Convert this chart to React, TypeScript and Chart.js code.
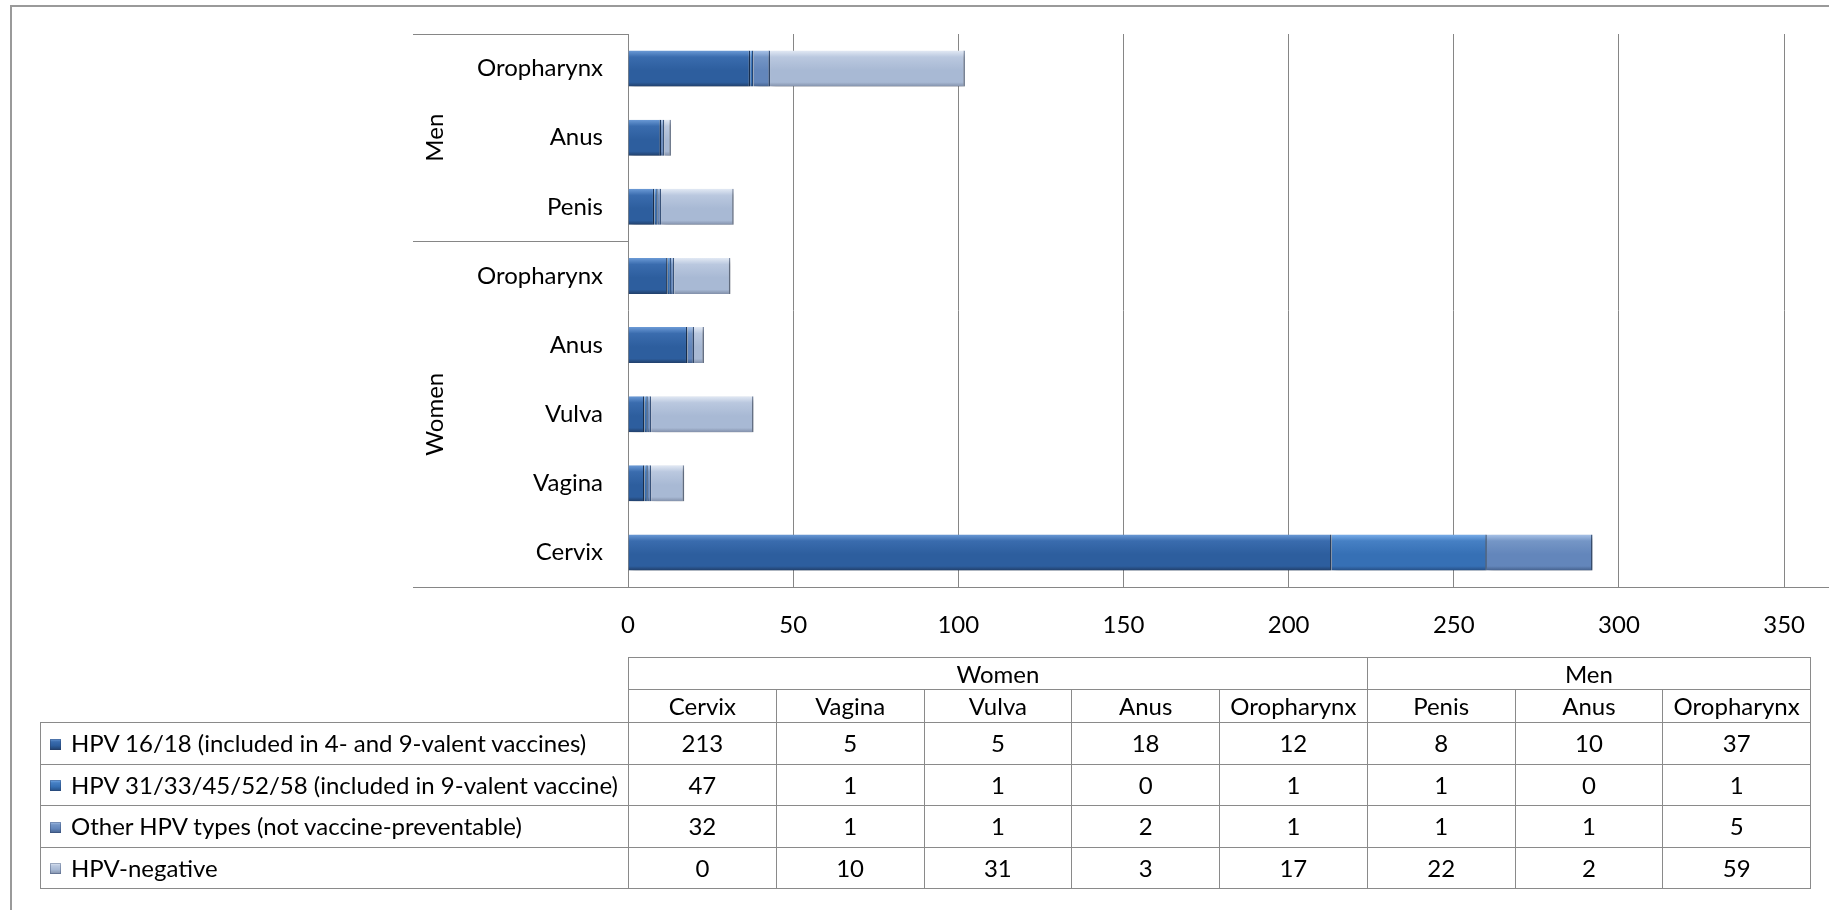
import React, { useEffect, useRef } from 'react';
import { Chart, registerables } from 'chart.js';

Chart.register(...registerables);

// ---------- DATA ----------
const categories = ['Cervix', 'Vagina', 'Vulva', 'Anus', 'Oropharynx', 'Penis', 'Anus', 'Oropharynx'];
const groupNames = ['Women', 'Men'];
const groupSizes = [5, 3];
const seriesNames = [
  'HPV 16/18 (included in 4- and 9-valent vaccines)',
  'HPV 31/33/45/52/58 (included in 9-valent vaccine)',
  'Other HPV types (not vaccine-preventable)',
  'HPV-negative',
];
const hpv1618 = [213, 5, 5, 18, 12, 8, 10, 37];
const hpv9valent = [47, 1, 1, 0, 1, 1, 0, 1];
const hpvOther = [32, 1, 1, 2, 1, 1, 1, 5];
const hpvNegative = [0, 10, 31, 3, 17, 22, 2, 59];
const xMin = 0;
const xMax = 350;
const xStep = 50;

const seriesValues = [hpv1618, hpv9valent, hpvOther, hpvNegative];

// ---------- STYLE ----------
const FONT = 'Lato, "Open Sans", sans-serif';
const FONT_SIZE = 24;
const GRID = '#868686';
const BAR_PCT = 0.52;
// [top highlight, upper, middle, bottom]
const palettes = [
  ['#6b9ad6', '#3a6cae', '#2d5e9e', '#213f6a'],
  ['#7aaeea', '#4680c4', '#3670b5', '#264f85'],
  ['#a9c3e8', '#7596c6', '#6386bb', '#45618d'],
  ['#e2e9f4', '#bac8df', '#a8b9d4', '#8290aa'],
];
const edgeColors = ['#1d3a63', '#23497c', '#3e5a85', '#7f8ea8'];

const decorPlugin = {
  id: 'decor',
  beforeDatasetsDraw(chart: any) {
    const ctx = chart.ctx;
    ctx.save();
    ctx.shadowColor = 'rgba(0,0,0,0.35)';
    ctx.shadowBlur = 5;
    ctx.shadowOffsetX = 2;
    ctx.shadowOffsetY = 3;
  },
  afterDatasetsDraw(chart: any) {
    const ctx = chart.ctx;
    ctx.restore();
    const y = chart.scales.y;
    const area = chart.chartArea;
    const labelLeft = 413;
    ctx.save();
    ctx.strokeStyle = GRID;
    ctx.lineWidth = 1;
    const hline = (yy: number, x0: number, x1: number) => {
      const p = Math.round(yy) + 0.5;
      ctx.beginPath();
      ctx.moveTo(x0, p);
      ctx.lineTo(x1, p);
      ctx.stroke();
    };
    hline(area.top, labelLeft, area.left);
    hline(area.bottom, labelLeft, chart.width);
    let idx = 0;
    ctx.fillStyle = '#000';
    ctx.font = `${FONT_SIZE}px ${FONT}`;
    ctx.textAlign = 'center';
    ctx.textBaseline = 'middle';
    groupSizes.forEach((n, gi) => {
      const first = y.getPixelForValue(idx);
      const last = y.getPixelForValue(idx + n - 1);
      if (idx > 0) {
        const prev = y.getPixelForValue(idx - 1);
        hline((prev + first) / 2, labelLeft, area.left);
      }
      ctx.save();
      ctx.translate(435, (first + last) / 2);
      ctx.rotate(-Math.PI / 2);
      ctx.fillText(groupNames[gi], 0, 0);
      ctx.restore();
      idx += n;
    });
    ctx.restore();
  },
};

function ChartCanvas() {
  const ref = useRef<HTMLCanvasElement | null>(null);
  useEffect(() => {
    if (!ref.current) return;
    const datasets = seriesValues.map((vals, si) => ({
      label: seriesNames[si],
      data: vals,
      backgroundColor: (c: any) => {
        const pal = palettes[si];
        const chart = c.chart;
        const ys = chart.scales && chart.scales.y;
        if (!ys || c.dataIndex === undefined || !chart.chartArea) return pal[2];
        const center = ys.getPixelForValue(c.dataIndex);
        const h = (ys.height / categories.length) * BAR_PCT;
        const g = chart.ctx.createLinearGradient(0, center - h / 2, 0, center + h / 2);
        g.addColorStop(0, pal[0]);
        g.addColorStop(0.18, pal[1]);
        g.addColorStop(0.55, pal[2]);
        g.addColorStop(0.88, pal[2]);
        g.addColorStop(1, pal[3]);
        return g;
      },
      borderColor: edgeColors[si],
      borderWidth: { top: 0, right: 1.5, bottom: 0, left: 0 },
      borderSkipped: false,
      barPercentage: BAR_PCT,
      categoryPercentage: 1,
    }));
    const chart = new Chart(ref.current, {
      type: 'bar',
      data: { labels: categories, datasets },
      options: {
        indexAxis: 'y',
        animation: false,
        responsive: false,
        maintainAspectRatio: false,
        events: [],
        layout: { padding: { left: 0, top: 34, right: 39, bottom: 263 } },
        plugins: { legend: { display: false }, tooltip: { enabled: false }, title: { display: false } },
        scales: {
          x: {
            type: 'linear',
            stacked: true,
            min: xMin,
            max: xMax,
            ticks: {
              stepSize: xStep,
              color: '#000',
              font: { family: FONT, size: FONT_SIZE },
              padding: 24,
              maxRotation: 0,
            },
            grid: { color: GRID, lineWidth: 1, drawTicks: false },
            border: { display: false },
            afterFit: (s: any) => {
              s.height = 60;
            },
          },
          y: {
            type: 'category',
            stacked: true,
            reverse: true,
            grid: { display: false, drawTicks: false },
            border: { display: false },
            ticks: {
              color: '#000',
              font: { family: FONT, size: FONT_SIZE },
              padding: 25,
              autoSkip: false,
            },
            afterFit: (s: any) => {
              s.width = 628;
              s.paddingTop = 0;
              s.paddingBottom = 0;
            },
          },
        },
      },
      plugins: [decorPlugin],
    } as any);
    if ((document as any).fonts && (document as any).fonts.load) {
      (document as any).fonts.load(`${FONT_SIZE}px Lato`).then(() => {
        try { chart.update(); } catch (e) { /* destroyed */ }
      });
    }
    return () => chart.destroy();
  }, []);
  return (
    <canvas
      ref={ref}
      width={1829}
      height={910}
      style={{ position: 'absolute', left: 0, top: 0, width: 1829, height: 910 }}
    />
  );
}

const cellBorder = '1px solid #8a8a8a';
const swatch = (si: number) => {
  const p = palettes[si];
  return `linear-gradient(to bottom, ${p[0]} 0%, ${p[1]} 25%, ${p[2]} 60%, ${p[3]} 100%)`;
};

function DataTable() {
  const colW = 147.75;
  const tdBase: React.CSSProperties = {
    border: cellBorder,
    padding: 0,
    textAlign: 'center',
    verticalAlign: 'middle',
    whiteSpace: 'nowrap',
    lineHeight: 1,
    overflow: 'hidden',
  };
  return (
    <table
      style={{
        position: 'absolute',
        left: 40,
        top: 657,
        width: 588 + colW * categories.length,
        borderCollapse: 'collapse',
        tableLayout: 'fixed',
        fontFamily: FONT,
        fontSize: FONT_SIZE,
        color: '#000',
      }}
    >
      <colgroup>
        <col style={{ width: 588 }} />
        {categories.map((_, i) => (
          <col key={i} style={{ width: colW }} />
        ))}
      </colgroup>
      <tbody>
        <tr style={{ height: 32 }}>
          <td style={{ border: 'none', padding: 0 }} />
          {groupNames.map((g, gi) => (
            <td key={g} colSpan={groupSizes[gi]} style={tdBase}>
              {g}
            </td>
          ))}
        </tr>
        <tr style={{ height: 33 }}>
          <td style={{ border: 'none', padding: 0 }} />
          {categories.map((c, i) => (
            <td key={i} style={tdBase}>
              {c}
            </td>
          ))}
        </tr>
        {seriesValues.map((vals, si) => (
          <tr key={si} style={{ height: 41.5 }}>
            <td style={{ ...tdBase, textAlign: 'left', paddingLeft: 9 }}>
              <span
                style={{
                  display: 'inline-block',
                  width: 11,
                  height: 11,
                  marginRight: 10,
                  verticalAlign: 'middle',
                  position: 'relative',
                  top: -2,
                  background: swatch(si),
                  boxShadow: 'inset 0 0 0 1px rgba(40,60,100,0.35)',
                }}
              />
              {seriesNames[si]}
            </td>
            {vals.map((v, i) => (
              <td key={i} style={tdBase}>
                {v}
              </td>
            ))}
          </tr>
        ))}
      </tbody>
    </table>
  );
}

export default function App() {
  return (
    <div style={{ position: 'absolute', left: 0, top: 0, width: 1829, height: 910, overflow: 'hidden', background: '#fff' }}>
      <div
        style={{
          position: 'absolute',
          left: 10,
          top: 5,
          width: 1819,
          height: 905,
          borderTop: '2px solid #9a9a9a',
          borderLeft: '2px solid #9a9a9a',
          boxSizing: 'border-box',
        }}
      />
      <ChartCanvas />
      <DataTable />
    </div>
  );
}
